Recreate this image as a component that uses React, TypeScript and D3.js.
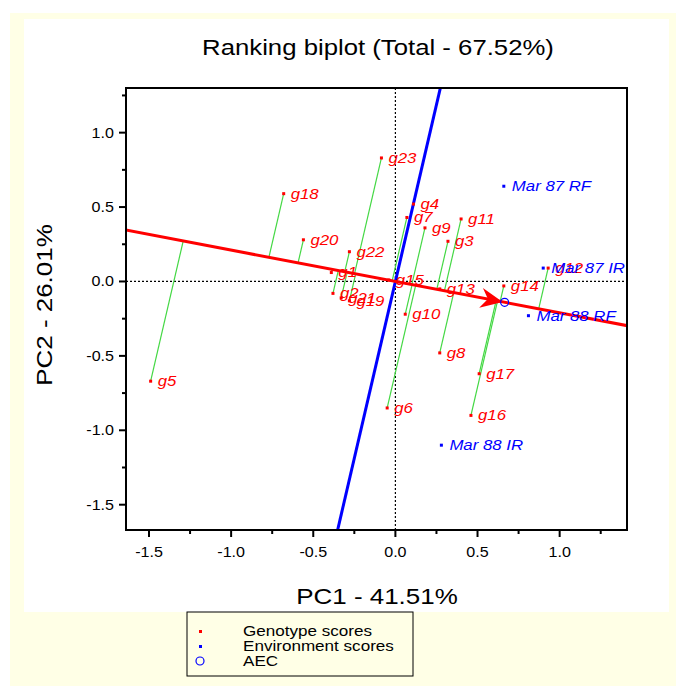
import * as d3 from "d3"
import type { ReactNode } from "react"

const genotypes = ["g1", "g2", "g3", "g4", "g5", "g6", "g7", "g8", "g9", "g10", "g11", "g12", "g13", "g14", "g15", "g16", "g17", "g18", "g19", "g20", "g21", "g22", "g23"]
const genoPC1 = [-0.39, -0.38, 0.32, 0.11, -1.49, -0.05, 0.07, 0.27, 0.18, 0.06, 0.4, 0.93, 0.27, 0.66, -0.04, 0.46, 0.51, -0.68, -0.28, -0.56, -0.33, -0.28, -0.085]
const genoPC2 = [0.06, -0.08, 0.27, 0.52, -0.67, -0.85, 0.43, -0.48, 0.36, -0.22, 0.42, 0.09, -0.05, -0.03, 0.01, -0.9, -0.62, 0.59, -0.13, 0.28, -0.11, 0.2, 0.83]

const environments = ["Mar 87 RF", "Mar 87 IR", "Mar 88 RF", "Mar 88 IR"]
const envPC1 = [0.66, 0.9, 0.81, 0.28]
const envPC2 = [0.64, 0.09, -0.23, -1.1]

const aec = [0.665, -0.14]

const xTicks = [-1.5, -1.0, -0.5, 0.0, 0.5, 1.0]
const yTicks = [-1.5, -1.0, -0.5, 0.0, 0.5, 1.0]
const xMinor = [-1.25, -0.75, -0.25, 0.25, 0.75, 1.25]
const yMinor = [-1.25, -0.75, -0.25, 0.25, 0.75, 1.25]

const legendItems = ["Genotype scores", "Environment scores", "AEC"]

const FONT = "'Liberation Sans', Arial, sans-serif"

// the source image has its text stretched sideways a little
function T(props: {
  x: number
  y: number
  sx?: number
  rotate?: number
  children: ReactNode
  [k: string]: any
}) {
  const { x, y, sx = 1.2, rotate = 0, children, ...rest } = props
  return (
    <text transform={`translate(${x},${y}) rotate(${rotate}) scale(${sx},1)`} {...rest}>
      {children}
    </text>
  )
}

const fmt = (t: number) => d3.format(".1f")(t).replace("−", "-")

export default function App() {
  const left = 126, right = 627, top = 88, bottom = 530
  const x = d3.scaleLinear().domain([-1.64, 1.41]).range([left, right])
  const y = d3.scaleLinear().domain([-1.67, 1.3]).range([bottom, top])

  // unit vector of the AEC abscissa and its perpendicular
  const len = Math.hypot(aec[0], aec[1])
  const u = [aec[0] / len, aec[1] / len]
  const p = [-u[1], u[0]]
  const line = d3.line<number[]>().x((d) => x(d[0])).y((d) => y(d[1]))
  const redLine = line([[-5 * u[0], -5 * u[1]], [5 * u[0], 5 * u[1]]])
  const blueLine = line([[-5 * p[0], -5 * p[1]], [5 * p[0], 5 * p[1]]])

  const projections = genotypes.map((_, i) => {
    const t = genoPC1[i] * u[0] + genoPC2[i] * u[1]
    return [[genoPC1[i], genoPC2[i]], [t * u[0], t * u[1]]]
  })

  // arrowhead at the AEC, pointing along the abscissa (pixel space)
  const ax = x(aec[0]), ay = y(aec[1])
  const ang = Math.atan2(y(u[1]) - y(0), x(u[0]) - x(0))
  const tip = [ax - 2 * Math.cos(ang), ay - 2 * Math.sin(ang)]
  const rot = (l: number, w: number) => [
    tip[0] + l * Math.cos(ang) - w * Math.sin(ang),
    tip[1] + l * Math.sin(ang) + w * Math.cos(ang),
  ]
  const arrow = [tip, rot(-22, -10), rot(-15, 0), rot(-22, 10)]

  return (
    <svg
      width={676}
      height={686}
      style={{ position: "absolute", left: 0, top: 0, display: "block" }}
      fontFamily={FONT}
    >
      <defs>
        <clipPath id="plot">
          <rect x={left} y={top} width={right - left} height={bottom - top} />
        </clipPath>
      </defs>
      <rect width={676} height={686} fill="#fff" />
      <rect x={10} y={13} width={666} height={673} fill="#ffffe6" />
      <rect x={24} y={19} width={645} height={593} fill="#fff" />

      <T x={378} y={55} sx={1.17} textAnchor="middle" fontSize={22}>
        Ranking biplot (Total - 67.52%)
      </T>

      <g clipPath="url(#plot)">
        <line x1={x(0)} x2={x(0)} y1={top} y2={bottom} stroke="#000" strokeWidth={1.2} strokeDasharray="2,2" />
        <line x1={left} x2={right} y1={y(0)} y2={y(0)} stroke="#000" strokeWidth={1.2} strokeDasharray="2,2" />
        {projections.map((d, i) => (
          <path key={i} d={line(d) || ""} stroke="#44d844" strokeWidth={1.2} fill="none" />
        ))}
        <path d={blueLine || ""} stroke="#0000ff" strokeWidth={3} fill="none" />
        <path d={redLine || ""} stroke="#ff0000" strokeWidth={3} fill="none" />
        <polygon points={arrow.map((d) => d.join(",")).join(" ")} fill="#ff0000" />
        <circle cx={ax} cy={ay} r={4} fill="none" stroke="#0000ff" strokeWidth={1.2} />

        {genotypes.map((g, i) => (
          <g key={g}>
            <rect x={x(genoPC1[i]) - 1.5} y={y(genoPC2[i]) - 1.5} width={3} height={3} fill="#ff0000" />
            <T
              x={x(genoPC1[i]) + 7}
              y={y(genoPC2[i])}
              dy="0.35em"
              fontSize={14}
              fontStyle="italic"
              fill="#ff0000"
            >
              {g}
            </T>
          </g>
        ))}
        {environments.map((e, i) => (
          <g key={e}>
            <rect x={x(envPC1[i]) - 1.5} y={y(envPC2[i]) - 1.5} width={3} height={3} fill="#0000ff" />
            <T
              x={x(envPC1[i]) + 8}
              y={y(envPC2[i])}
              dy="0.35em"
              fontSize={14}
              fontStyle="italic"
              fill="#0000ff"
            >
              {e}
            </T>
          </g>
        ))}
      </g>

      <rect x={left} y={top} width={right - left} height={bottom - top} fill="none" stroke="#000" strokeWidth={2} />

      {/* x axis */}
      {xTicks.map((t) => (
        <g key={t}>
          <line x1={x(t)} x2={x(t)} y1={bottom} y2={bottom + 7} stroke="#000" strokeWidth={2} />
          <T x={x(t)} y={bottom + 27} sx={1.15} textAnchor="middle" fontSize={14}>
            {fmt(t)}
          </T>
        </g>
      ))}
      {xMinor.map((t) => (
        <line key={t} x1={x(t)} x2={x(t)} y1={bottom} y2={bottom + 4} stroke="#000" strokeWidth={2} />
      ))}

      {/* y axis */}
      {yTicks.map((t) => (
        <g key={t}>
          <line x1={left - 7} x2={left} y1={y(t)} y2={y(t)} stroke="#000" strokeWidth={2} />
          <T x={left - 12} y={y(t)} sx={1.15} dy="0.35em" textAnchor="end" fontSize={14}>
            {fmt(t)}
          </T>
        </g>
      ))}
      {yMinor.map((t) => (
        <line key={t} x1={left - 4} x2={left} y1={y(t)} y2={y(t)} stroke="#000" strokeWidth={2} />
      ))}

      <T x={377} y={604} sx={1.18} textAnchor="middle" fontSize={22}>
        PC1 - 41.51%
      </T>
      <T x={52} y={305} sx={1.18} rotate={-90} textAnchor="middle" fontSize={22}>
        PC2 - 26.01%
      </T>

      {/* legend */}
      <rect x={187} y={612} width={226} height={64} fill="#ffffe6" stroke="#000" strokeWidth={1} />
      {legendItems.map((l, i) => (
        <T key={l} x={243} y={631 + i * 15} sx={1.22} dy="0.35em" fontSize={14}>
          {l}
        </T>
      ))}
      <rect x={199} y={630} width={3} height={3} fill="#ff0000" />
      <rect x={199} y={645} width={3} height={3} fill="#0000ff" />
      <circle cx={200} cy={661} r={4} fill="none" stroke="#0000ff" strokeWidth={1.2} />
    </svg>
  )
}
